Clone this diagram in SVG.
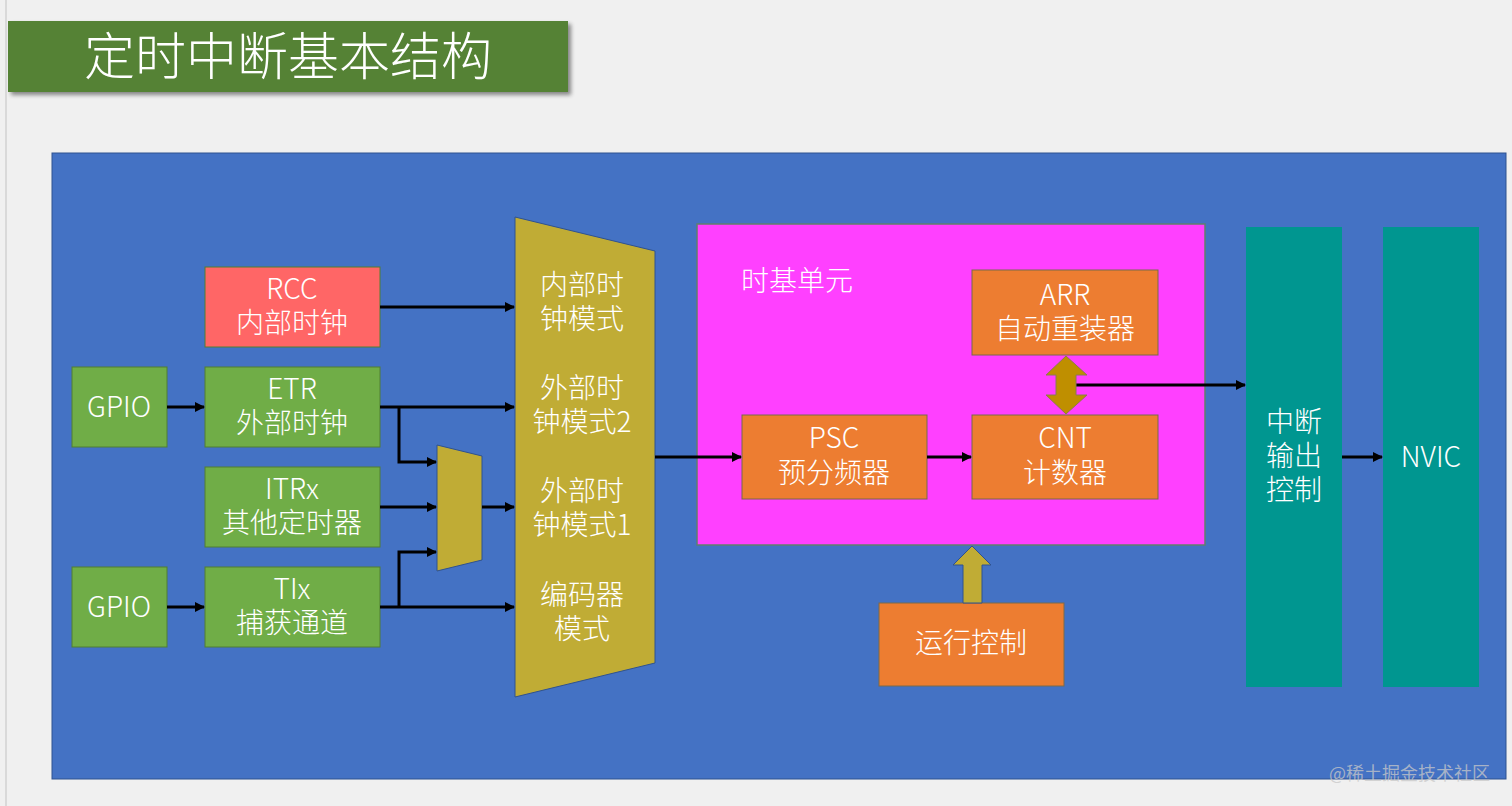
<svg xmlns="http://www.w3.org/2000/svg" width="1512" height="806" viewBox="0 0 1512 806">
<defs>
<style>
.t{font-family:"Noto Sans CJK SC","Liberation Sans",sans-serif;font-weight:300;fill:#ffffff;text-anchor:middle;dominant-baseline:central}
.f26{font-size:28px}
.grn{fill:#70ad47;stroke:#507e32;stroke-width:1}
.org{fill:#ed7d31;stroke:#7a6a4a;stroke-width:1}
.teal{fill:#009690}
.arr{fill:none;stroke:#000000;stroke-width:3;marker-end:url(#ah)}
</style>
<marker id="ah" markerWidth="10" markerHeight="10" refX="9" refY="5" orient="auto" markerUnits="userSpaceOnUse">
<path d="M0,0 L10,5 L0,10 Z" fill="#000000"/>
</marker>
<filter id="sh" x="-5%" y="-20%" width="115%" height="150%">
<feGaussianBlur in="SourceAlpha" stdDeviation="2"/>
<feOffset dx="3" dy="3" result="b"/>
<feComponentTransfer><feFuncA type="linear" slope="0.45"/></feComponentTransfer>
<feMerge><feMergeNode/><feMergeNode in="SourceGraphic"/></feMerge>
</filter>
</defs>
<rect x="0" y="0" width="1512" height="806" fill="#f0f0f0"/>
<line x1="6" y1="0" x2="6" y2="806" stroke="#d9d9d9" stroke-width="2"/>

<g id="title">
<rect x="8" y="21" width="560" height="71" fill="#548235" filter="url(#sh)"/>
<text class="t" x="288" y="53" style="font-size:51px">定时中断基本结构</text>
</g>

<g id="frame">
<rect x="52" y="153" width="1454" height="626" fill="#4472c4" stroke="#2f528f" stroke-width="1"/>
</g>

<g id="rcc">
<rect x="205" y="267" width="175" height="80" fill="#ff6666" stroke="#507e32" stroke-width="1"/>
<text class="t f26" x="292" y="287"><tspan x="292">RCC</tspan><tspan x="292" dy="34">内部时钟</tspan></text>
</g>
<g id="gpio1">
<rect class="grn" x="72" y="367" width="95" height="80"/>
<text class="t f26" x="119" y="405">GPIO</text>
</g>
<g id="etr">
<rect class="grn" x="205" y="367" width="175" height="80"/>
<text class="t f26" x="292" y="387"><tspan x="292">ETR</tspan><tspan x="292" dy="34">外部时钟</tspan></text>
</g>
<g id="itrx">
<rect class="grn" x="205" y="467" width="175" height="80"/>
<text class="t f26" x="292" y="487"><tspan x="292">ITRx</tspan><tspan x="292" dy="34">其他定时器</tspan></text>
</g>
<g id="gpio2">
<rect class="grn" x="72" y="567" width="95" height="80"/>
<text class="t f26" x="119" y="605">GPIO</text>
</g>
<g id="tix">
<rect class="grn" x="205" y="567" width="175" height="80"/>
<text class="t f26" x="292" y="587"><tspan x="292">TIx</tspan><tspan x="292" dy="34">捕获通道</tspan></text>
</g>

<g id="smallmux">
<polygon points="437,445 482,456 482,560 437,571" fill="#c0ac35" stroke="#2f528f" stroke-width="1"/>
</g>

<g id="modemux">
<polygon points="515,217 655,251 655,663 515,697" fill="#c0ac35" stroke="#2f528f" stroke-width="1"/>
<text class="t f26" x="582" y="283"><tspan x="582">内部时</tspan><tspan x="582" dy="34">钟模式</tspan></text>
<text class="t f26" x="582" y="386"><tspan x="582">外部时</tspan><tspan x="582" dy="34">钟模式2</tspan></text>
<text class="t f26" x="582" y="489"><tspan x="582">外部时</tspan><tspan x="582" dy="34">钟模式1</tspan></text>
<text class="t f26" x="582" y="593"><tspan x="582">编码器</tspan><tspan x="582" dy="34">模式</tspan></text>
</g>

<g id="timebase">
<rect x="697" y="224" width="508" height="321" fill="#ff40ff" stroke="#5f7f6f" stroke-width="1.5"/>
<text class="t" x="797" y="279" style="font-size:28px">时基单元</text>
</g>
<g id="arr">
<rect class="org" x="972" y="270" width="186" height="85"/>
<text class="t f26" x="1065" y="293"><tspan x="1065">ARR</tspan><tspan x="1065" dy="34">自动重装器</tspan></text>
</g>
<g id="psc">
<rect class="org" x="742" y="415" width="185" height="84"/>
<text class="t f26" x="834" y="436"><tspan x="834">PSC</tspan><tspan x="834" dy="35">预分频器</tspan></text>
</g>
<g id="cnt">
<rect class="org" x="972" y="415" width="186" height="84"/>
<text class="t f26" x="1065" y="436"><tspan x="1065">CNT</tspan><tspan x="1065" dy="35">计数器</tspan></text>
</g>
<g id="runctrl">
<rect class="org" x="879" y="603" width="185" height="83"/>
<text class="t f26" x="971" y="641">运行控制</text>
</g>
<g id="intout">
<rect class="teal" x="1246" y="227" width="96" height="460"/>
<text class="t f26" x="1294" y="420"><tspan x="1294">中断</tspan><tspan x="1294" dy="34">输出</tspan><tspan x="1294" dy="34">控制</tspan></text>
</g>
<g id="nvic">
<rect class="teal" x="1383" y="227" width="96" height="460"/>
<text class="t f26" x="1431" y="455">NVIC</text>
</g>

<g id="connectors">
<line class="arr" x1="380" y1="307" x2="514" y2="307"/>
<line class="arr" x1="167" y1="407" x2="204" y2="407"/>
<line class="arr" x1="380" y1="407" x2="514" y2="407"/>
<polyline class="arr" points="399,407 399,462 436,462"/>
<line class="arr" x1="380" y1="507" x2="436" y2="507"/>
<line class="arr" x1="482" y1="507" x2="514" y2="507"/>
<line class="arr" x1="167" y1="607" x2="204" y2="607"/>
<line class="arr" x1="380" y1="607" x2="514" y2="607"/>
<polyline class="arr" points="399,607 399,552 436,552"/>
<line class="arr" x1="655" y1="457" x2="741" y2="457"/>
<line class="arr" x1="927" y1="457" x2="971" y2="457"/>
<line class="arr" x1="1076" y1="385" x2="1245" y2="385"/>
<line class="arr" x1="1342" y1="457" x2="1382" y2="457"/>
<polygon points="1066,356 1087,375 1076,375 1076,395 1087,395 1066,414 1046,395 1056,395 1056,375 1046,375" fill="#bf8f00" stroke="#8a7a50" stroke-width="1"/>
<polygon points="972,546 991,565 982,565 982,603 963,603 963,565 953,565" fill="#c0ac35" stroke="#2f528f" stroke-width="1"/>
</g>

<text x="1490" y="772" style="font-family:'Noto Sans CJK SC',sans-serif;font-size:18px;text-anchor:end;dominant-baseline:central" fill="#c8c8c8" fill-opacity="0.75">@稀土掘金技术社区</text>
</svg>
